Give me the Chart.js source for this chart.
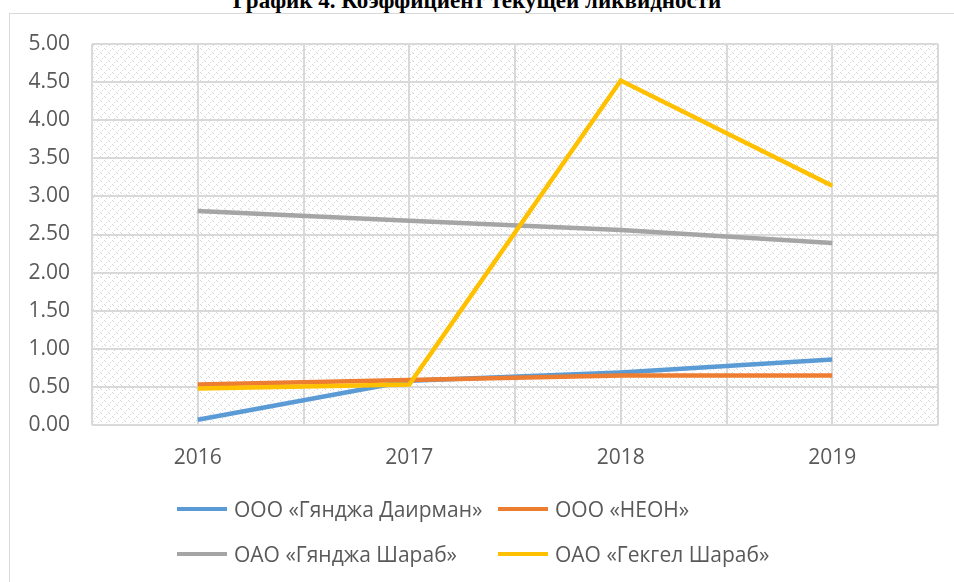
<!DOCTYPE html>
<html>
<head>
<meta charset="utf-8">
<script src="https://cdn.jsdelivr.net/npm/chart.js@4.4.1/dist/chart.umd.min.js"></script>
<style>
  html, body { margin: 0; padding: 0; background: #fff; overflow: hidden; }
  #wrap { position: relative; width: 954px; height: 582px; overflow: hidden; }
  #title {
    position: absolute; left: 0; top: -11px; width: 954px; text-align: center;
    font: bold 23px "Liberation Serif", "Times New Roman", serif; line-height: 24px; color: #000;
  }
  #frame { position: absolute; left: 9px; top: 13px; width: 1000px; height: 1000px; border: 1px solid #d9d9d9; box-sizing: border-box; }
  #chart { position: absolute; left: 0; top: 0; }
  #legend { position: absolute; left: 0; top: 0; font: 21px "Open Sans", sans-serif; color: #595959; }
  .item { position: absolute; white-space: nowrap; line-height: 24px; }
  .swatch { position: absolute; top: 10px; width: 50px; height: 4px; }
  .label { position: absolute; left: 57px; top: 0; }
</style>
</head>
<body>
<div id="wrap">
  <div id="frame"></div>
  <div id="title">График 4. Коэффициент текущей ликвидности</div>
  <canvas id="chart" width="954" height="582"></canvas>
  <div id="legend"></div>
</div>
<script>
// Data
const years = ['2016', '2017', '2018', '2019'];
const seriesNames = ['ООО «Гянджа Даирман»', 'ООО «НЕОН»', 'ОАО «Гянджа Шараб»', 'ОАО «Гекгел Шараб»'];
const gyandzhaDairman = [0.07, 0.58, 0.69, 0.86];
const neon = [0.53, 0.59, 0.65, 0.65];
const gyandzhaSharab = [2.81, 2.68, 2.56, 2.39];
const gekgelSharab = [0.48, 0.53, 4.52, 3.14];
const yTicks = [0, 0.5, 1, 1.5, 2, 2.5, 3, 3.5, 4, 4.5, 5];

const colors = ['#5B9BD5', '#ED7D31', '#A5A5A5', '#FFC000'];
const allValues = [gyandzhaDairman, neon, gyandzhaSharab, gekgelSharab];

// Hatched plot-area background (Excel pattern fill)
const patternCanvas = document.createElement('canvas');
patternCanvas.width = 8;
patternCanvas.height = 8;
const pctx = patternCanvas.getContext('2d');
pctx.fillStyle = '#ffffff';
pctx.fillRect(0, 0, 8, 8);
pctx.fillStyle = '#d6d6d6';
for (let i = 0; i < 8; i++) {
  if (i % 4 < 2) pctx.fillRect(i, i, 1, 1);
  if ((i + 2) % 4 < 1) pctx.fillRect((i + 4) % 8, i, 1, 1);
}

const plotBackground = {
  id: 'plotBackground',
  beforeDraw(chart) {
    const { ctx, chartArea } = chart;
    ctx.save();
    ctx.fillStyle = ctx.createPattern(patternCanvas, 'repeat');
    ctx.fillRect(chartArea.left, chartArea.top, chartArea.right - chartArea.left, chartArea.bottom - chartArea.top);
    ctx.restore();
  }
};

const datasets = seriesNames.map((name, i) => ({
  label: name,
  data: allValues[i].map((v, j) => ({ x: j, y: v })),
  borderColor: colors[i],
  backgroundColor: colors[i],
  borderWidth: 4.5,
  pointRadius: 0,
  tension: 0,
  order: seriesNames.length - i
}));

const chart = new Chart(document.getElementById('chart'), {
  type: 'line',
  data: { datasets },
  options: {
    responsive: false,
    animation: false,
    layout: { padding: { left: 0, right: 16, top: 44, bottom: 107 } },
    plugins: { legend: { display: false }, tooltip: { enabled: false } },
    scales: {
      x: {
        type: 'linear',
        min: -0.5,
        max: 3.5,
        afterBuildTicks: (scale) => {
          scale.ticks = [];
          for (let k = 0; k <= years.length * 2; k++) scale.ticks.push({ value: -0.5 + k * 0.5 });
        },
        afterFit: (scale) => {
          scale.height = 50;
          scale.paddingLeft = 0;
          scale.paddingRight = 0;
        },
        grid: { color: '#d9d9d9', lineWidth: 2, drawTicks: false },
        border: { display: false },
        ticks: {
          autoSkip: false,
          padding: 20,
          color: '#595959',
          font: { family: 'Open Sans', size: 21 },
          callback: (v) => Number.isInteger(v) ? years[v] : ''
        }
      },
      y: {
        min: 0,
        max: 5,
        afterBuildTicks: (scale) => { scale.ticks = yTicks.map(v => ({ value: v })); },
        afterFit: (scale) => { scale.width = 92; },
        grid: { color: '#d9d9d9', lineWidth: 2, drawTicks: false },
        border: { display: false },
        ticks: {
          padding: 22,
          color: '#595959',
          font: { family: 'Open Sans', size: 21 },
          callback: (v) => v.toFixed(2)
        }
      }
    }
  },
  plugins: [plotBackground]
});

// Legend in two aligned columns, like Excel
const legend = document.getElementById('legend');
const legendPos = [[177, 497], [498, 497], [177, 542], [498, 542]];
chart.data.datasets.forEach((ds, i) => {
  const item = document.createElement('div');
  item.className = 'item';
  item.style.left = legendPos[i][0] + 'px';
  item.style.top = legendPos[i][1] + 'px';
  item.innerHTML = '<span class="swatch" style="background:' + ds.borderColor + '"></span><span class="label">' + ds.label + '</span>';
  legend.appendChild(item);
});
</script>
</body>
</html>
